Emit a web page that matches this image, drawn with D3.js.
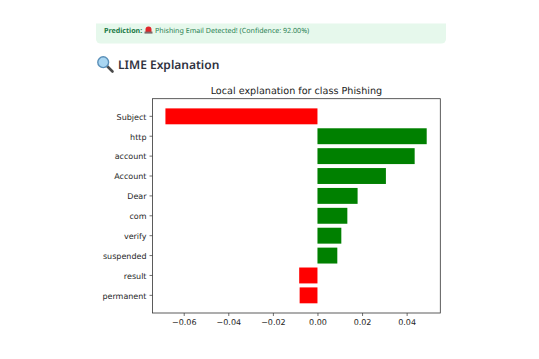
<!DOCTYPE html>
<html>
<head>
<meta charset="utf-8">
<script src="https://cdn.jsdelivr.net/npm/d3@7"></script>
<style>
    html, body { margin: 0; padding: 0; background: #fff; }
    #chart { position: absolute; left: 0; top: 0; }
    text { text-rendering: geometricPrecision; }
    .tick text { font-family: "DejaVu Sans", sans-serif; font-size: 8px; fill: #262626; }
</style>
</head>
<body>
<div id="chart"></div>
<script>
const words = ["Subject", "http", "account", "Account", "Dear", "com", "verify", "suspended", "result", "permanent"];
const weights = [-0.0682, 0.0490, 0.0436, 0.0307, 0.0180, 0.0134, 0.0107, 0.0089, -0.0082, -0.0080];
const xTicks = [-0.06, -0.04, -0.02, 0, 0.02, 0.04];
const xDomain = [-0.074, 0.0551];
const predictionLabel = "Prediction:";
const predictionText = "Phishing Email Detected! (Confidence: 92.00%)";
const sectionTitle = "LIME Explanation";
const chartTitle = "Local explanation for class Phishing";

const margin = { top: 98.7, right: 98.7, bottom: 46, left: 152.5 },
    fullWidth = 539,
    fullHeight = 359,
    width = fullWidth - margin.left - margin.right,
    height = fullHeight - margin.top - margin.bottom;

const page = d3.select("#chart")
    .append("svg")
    .attr("width", fullWidth)
    .attr("height", fullHeight);

/* Streamlit success box */
page.append("path")
    .attr("d", "M96 23.5H446V39a4.5 4.5 0 0 1-4.5 4.5H100.5A4.5 4.5 0 0 1 96 39Z")
    .attr("fill", "#e6f8ec");

page.append("text")
    .attr("x", 104)
    .attr("y", 32.8)
    .attr("font-family", "'Noto Sans', sans-serif")
    .attr("font-size", 7.1)
    .attr("font-weight", 700)
    .attr("fill", "#1b7a45")
    .text(predictionLabel);

/* siren icon */
const siren = page.append("g").attr("transform", "translate(144, 26)");
siren.append("path").attr("d", "M1.5 6V3.5a3 3 0 0 1 6 0V6Z").attr("fill", "#e0262b");
siren.append("rect").attr("x", 0.5).attr("y", 5.6).attr("width", 8).attr("height", 2).attr("fill", "#7d6a6a");

page.append("text")
    .attr("x", 155)
    .attr("y", 32.8)
    .attr("font-family", "'Noto Sans', sans-serif")
    .attr("font-size", 7.1)
    .attr("fill", "#2a8052")
    .text(predictionText);

/* magnifier icon */
const lens = page.append("g").attr("transform", "translate(97, 56)");
lens.append("line").attr("x1", 9).attr("y1", 9).attr("x2", 15.5).attr("y2", 15.5)
    .attr("stroke", "#4a4a4a").attr("stroke-width", 2.6).attr("stroke-linecap", "round");
lens.append("circle").attr("cx", 6.2).attr("cy", 6.2).attr("r", 5.4)
    .attr("fill", "#a9d6f2").attr("stroke", "#5a8fb8").attr("stroke-width", 1.4);

page.append("text")
    .attr("x", 118)
    .attr("y", 69)
    .attr("font-family", "'Noto Sans', sans-serif")
    .attr("font-size", 12)
    .attr("font-weight", 600)
    .attr("fill", "#31333f")
    .text(sectionTitle);

const svg = page.append("g")
    .attr("transform", `translate(${margin.left}, ${margin.top})`);

/* X-scale */
const x = d3.scaleLinear()
    .domain(xDomain)
    .range([0, width]);

/* Y-scale */
const y = d3.scaleBand()
    .domain(words)
    .range([0, height])
    .paddingInner(0.2)
    .paddingOuter(0.487);

svg.selectAll("bar")
    .data(words)
    .enter()
    .append("rect")
    .attr("x", (d, i) => x(Math.min(0, weights[i])))
    .attr("y", d => y(d))
    .attr("width", (d, i) => Math.abs(x(weights[i]) - x(0)))
    .attr("height", y.bandwidth())
    .attr("fill", (d, i) => weights[i] < 0 ? "red" : "green");

/* X-axis */
const xAxis = svg.append("g")
    .attr("transform", `translate(0, ${height})`)
    .call(d3.axisBottom(x).tickValues(xTicks).tickSize(3).tickPadding(3)
        .tickFormat(d => d3.format(".2f")(d).replace("-", "\u2212")));

/* Y-axis */
const yAxis = svg.append("g")
    .call(d3.axisLeft(y).tickSize(3).tickPadding(3));

yAxis.selectAll("text").attr("dy", "0.42em");

xAxis.select(".domain").remove();
yAxis.select(".domain").remove();
xAxis.selectAll("line").attr("stroke", "#333").attr("stroke-width", 0.7);
yAxis.selectAll("line").attr("stroke", "#333").attr("stroke-width", 0.7);

/* frame */
svg.append("rect")
    .attr("width", width)
    .attr("height", height)
    .attr("fill", "none")
    .attr("stroke", "#333")
    .attr("stroke-width", 0.8);

svg.append("text")
    .attr("x", width / 2)
    .attr("y", -5)
    .attr("text-anchor", "middle")
    .attr("font-family", "'DejaVu Sans', sans-serif")
    .attr("font-size", 9.65)
    .attr("fill", "#222")
    .text(chartTitle);
</script>
</body>
</html>
